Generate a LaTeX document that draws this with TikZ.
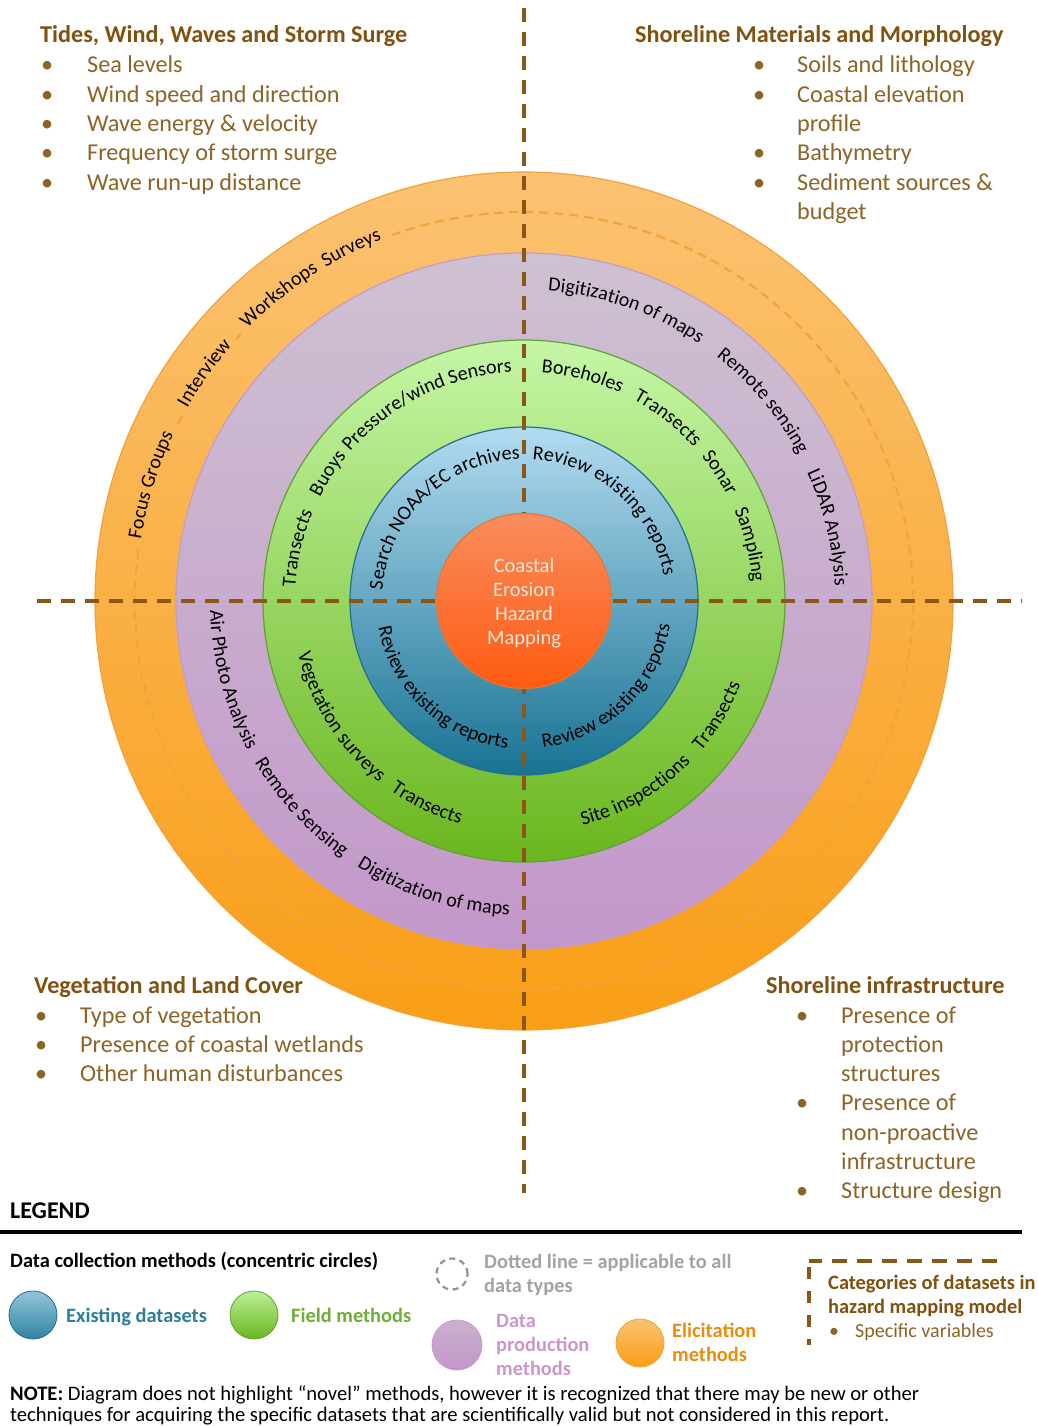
\documentclass[tikz,border=0pt]{standalone}
\usepackage{fontspec}
\setmainfont{Carlito}
\usetikzlibrary{decorations.text,calc}
\definecolor{orTop}{HTML}{FBC272}
\definecolor{orBot}{HTML}{F99E17}
\definecolor{orLine}{HTML}{F3A23A}
\definecolor{orDash}{HTML}{F2A43C}
\definecolor{puTop}{HTML}{CEC1D1}
\definecolor{puBot}{HTML}{C397CA}
\definecolor{puLine}{HTML}{C49BCB}
\definecolor{grTop}{HTML}{C5F6A6}
\definecolor{grBot}{HTML}{6AB61E}
\definecolor{grLine}{HTML}{62A033}
\definecolor{blTop}{HTML}{B2DBF0}
\definecolor{blBot}{HTML}{187393}
\definecolor{blLine}{HTML}{256C90}
\definecolor{ceTop}{HTML}{F98D5E}
\definecolor{ceBot}{HTML}{FF5A10}
\definecolor{ceLine}{HTML}{E9762F}
\definecolor{ceText}{HTML}{FDE8DC}
\definecolor{brownLine}{HTML}{8B5717}
\definecolor{headBrown}{HTML}{82510F}
\definecolor{itemBrown}{HTML}{8E6426}
\definecolor{exText}{HTML}{2F7E9E}
\definecolor{fiText}{HTML}{6DB038}
\definecolor{grayTxt}{HTML}{A3A3A3}
\definecolor{puText}{HTML}{CB97CC}
\definecolor{elText}{HTML}{E88E0E}
\newcommand\arcfont{\fontsize{20}{24}\selectfont}
\newcommand\arcup[3]{\path[decorate,decoration={text along path,text align=center,text={|\arcfont|#3}}] ([shift={(#2+60:#1)}]C) arc[start angle=#2+60,end angle=#2-60,radius=#1];}
\newcommand\arcdown[3]{\path[decorate,decoration={text along path,text align=center,text={|\arcfont|#3}}] ([shift={(#2-60:#1)}]C) arc[start angle=#2-60,end angle=#2+60,radius=#1];}
\newcommand\oarc[2]{\draw[orDash,line width=2.2pt,dash pattern=on 9pt off 6pt] ([shift={(#1:389)}]C) arc[start angle=#1,end angle=#2,radius=389];}
\begin{document}
\begin{tikzpicture}[x=1pt,y=1pt,
  ringnode/.style={circle,inner sep=0pt,outer sep=0pt,line width=1.2pt},
  divider/.style={draw=brownLine,line width=4.5pt,dash pattern=on 14pt off 10pt},
  headtxt/.style={anchor=base west,inner sep=0pt,text=headBrown,font=\bfseries\fontsize{24.2}{29.3}\selectfont},
  itemtxt/.style={anchor=base west,inner sep=0pt,text=itemBrown,font=\fontsize{24.2}{29.3}\selectfont},
  legtxt/.style={anchor=base west,inner sep=0pt,font=\bfseries\fontsize{20.4}{24.2}\selectfont},
  legcirc/.style={circle,inner sep=0pt,minimum size=48pt,line width=0.8pt}]
\useasboundingbox (0,0) rectangle (1037,-1426);
\fill[white] (0,0) rectangle (1037,-1426);
\coordinate (C) at (524,-601);
% rings
\node[ringnode,minimum size=858pt,top color=orTop,bottom color=orBot,draw=orLine] (elic) at (C) {};
\oarc{172.5}{470}
\oarc{151.5}{153.2}
\oarc{136.6}{137.7}
\node[ringnode,minimum size=696pt,top color=puTop,bottom color=puBot,draw=puLine] (prod) at (C) {};
\node[ringnode,minimum size=522pt,top color=grTop,bottom color=grBot,draw=grLine] (field) at (C) {};
\node[ringnode,minimum size=348pt,top color=blTop,bottom color=blBot,draw=blLine] (exist) at (C) {};
% dividers
\coordinate (vt) at (524,-8);
\coordinate (vb) at (524,-1193);
\coordinate (hl) at (37,-601);
\coordinate (hr) at (1022,-601);
\draw[divider] (vt) -- (vb);
\draw[divider] (hl) -- (hr);
% hub
\node[ringnode,minimum size=175pt,top color=ceTop,bottom color=ceBot,draw=ceLine] (hub) at (C) {};
\node[anchor=base,inner sep=0pt,text=ceText,font=\fontsize{20.5}{24}\selectfont] (hubtext) at (524,-572)
  {\begin{tabular}[t]{@{}c@{}}Coastal\\Erosion\\Hazard\\Mapping\end{tabular}};
% curved labels: elicitation
\arcup{388}{162.7}{Focus Groups}
\arcup{388}{144.5}{Interview}
\arcup{388}{128.7}{Workshops}
\arcup{388}{116.1}{Surveys}
% data production
\arcup{311}{70.7}{Digitization of maps}
\arcup{311}{39.9}{Remote sensing}
\arcup{311}{13.6}{LiDAR Analysis}
\arcdown{314}{195}{Air Photo Analysis}
\arcdown{314}{222.8}{Remote Sensing}
\arcdown{314}{252.6}{Digitization of maps}
% field
\arcup{229}{166.9}{Transects}
\arcup{229}{146.9}{Buoys}
\arcup{229}{116.2}{Pressure/wind Sensors}
\arcup{229}{75.4}{Boreholes}
\arcup{229}{51.8}{Transects}
\arcup{229}{33.3}{Sonar}
\arcup{229}{14}{Sampling}
\arcdown{232}{212.2}{Vegetation surveys}
\arcdown{232}{244.4}{Transects}
\arcdown{232}{300.3}{Site inspections}
\arcdown{232}{329.3}{Transects}
% existing
\arcup{142}{133.6}{Search NOAA/EC archives}
\arcup{142}{48.4}{Review existing reports}
\arcdown{148}{227}{Review existing reports}
\arcdown{148}{314}{Review existing reports}
% category lists
\node[headtxt] (tlhead) at (40,-43) {Tides, Wind, Waves and Storm Surge};
\node[itemtxt] (tlitems) at (41,-73) {\begin{tabular}[t]{@{}p{46pt}@{}l@{}}
\textbullet & Sea levels\\ \textbullet & Wind speed and direction\\ \textbullet & Wave energy \& velocity\\
\textbullet & Frequency of storm surge\\ \textbullet & Wave run-up distance\end{tabular}};
\node[headtxt] (trhead) at (635,-43) {Shoreline Materials and Morphology};
\node[itemtxt] (tritems) at (753,-73) {\begin{tabular}[t]{@{}p{44pt}@{}l@{}}
\textbullet & Soils and lithology\\ \textbullet & Coastal elevation\\ & profile\\
\textbullet & Bathymetry\\ \textbullet & Sediment sources \&\\ & budget\end{tabular}};
\node[headtxt] (blhead) at (34,-993) {Vegetation and Land Cover};
\node[itemtxt] (blitems) at (35,-1023) {\begin{tabular}[t]{@{}p{45pt}@{}l@{}}
\textbullet & Type of vegetation\\ \textbullet & Presence of coastal wetlands\\ \textbullet & Other human disturbances\end{tabular}};
\node[headtxt] (brhead) at (766,-993) {Shoreline infrastructure};
\node[itemtxt] (britems) at (796,-1023) {\begin{tabular}[t]{@{}p{45pt}@{}l@{}}
\textbullet & Presence of\\ & protection\\ & structures\\ \textbullet & Presence of\\
 & non-proactive\\ & infrastructure\\ \textbullet & Structure design\end{tabular}};
% legend
\node[anchor=base west,inner sep=0pt,font=\bfseries\fontsize{24}{29}\selectfont] (legend) at (10,-1218) {LEGEND};
\coordinate (rl) at (0,-1232);
\coordinate (rr) at (1022,-1232);
\draw[line width=3.5pt] (rl) -- (rr);
\node[legtxt] (dcm) at (10,-1267) {Data collection methods (concentric circles)};
\node[legcirc,top color=blTop!80!blBot,bottom color=blBot!85!blTop,draw=blLine] (lgbl) at (33,-1315) {};
\node[legtxt,text=exText] (lgblt) at (66,-1322) {Existing datasets};
\node[legcirc,top color=grTop!90!grBot,bottom color=grBot,draw=grLine] (lggr) at (254,-1315) {};
\node[legtxt,text=fiText] (lggrt) at (291,-1322) {Field methods};
\node[circle,inner sep=0pt,minimum size=31pt,draw=gray!85,line width=2.2pt,dash pattern=on 6pt off 4.5pt] (lgdash) at (452,-1274) {};
\node[legtxt,text=grayTxt] (lgdasht) at (484,-1268) {\begin{tabular}[t]{@{}l@{}}Dotted line = applicable to all\\data types\end{tabular}};
\node[legcirc,minimum size=50pt,top color=puTop!60!puBot,bottom color=puBot,draw=puLine] (lgpu) at (457,-1345) {};
\node[legtxt,text=puText] (lgput) at (496,-1327) {\begin{tabular}[t]{@{}l@{}}Data\\production\\methods\end{tabular}};
\node[legcirc,top color=orTop,bottom color=orBot,draw=orLine] (lgor) at (640,-1343) {};
\node[legtxt,text=elText] (lgort) at (672,-1337) {\begin{tabular}[t]{@{}l@{}}Elicitation\\methods\end{tabular}};
\coordinate (bx1) at (997,-1261);
\coordinate (bx0) at (809,-1261);
\coordinate (bx2) at (809,-1345);
\draw[draw=brownLine,line width=4pt,dash pattern=on 15pt off 10pt] (bx1) -- (bx0);
\draw[draw=brownLine,line width=4pt,dash pattern=on 12pt off 12pt] ([yshift=-6pt]bx0) -- (bx2);
\node[legtxt,text=headBrown] (cathead) at (828,-1289) {\begin{tabular}[t]{@{}l@{}}Categories of datasets in\\hazard mapping model\end{tabular}};
\node[anchor=base west,inner sep=0pt,text=itemBrown,font=\fontsize{20}{24}\selectfont] (catitem) at (829,-1337) {\begin{tabular}[t]{@{}p{26pt}@{}l@{}}\textbullet & Specific variables\end{tabular}};
\node[anchor=base west,inner sep=0pt,font=\fontsize{20.6}{21}\selectfont] (note) at (10,-1400) {\begin{tabular}[t]{@{}l@{}}\textbf{NOTE:} Diagram does not highlight “novel” methods, however it is recognized that there may be new or other\\techniques for acquiring the specific datasets that are scientifically valid but not considered in this report.\end{tabular}};
\end{tikzpicture}
\end{document}
